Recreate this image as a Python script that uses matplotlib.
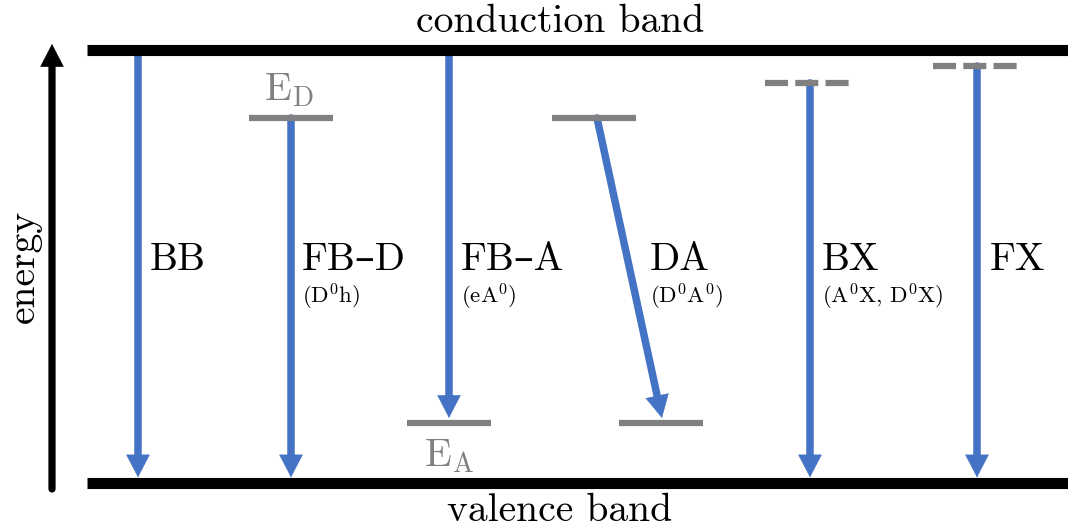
import matplotlib
matplotlib.use("Agg")
import matplotlib.pyplot as plt

plt.rcParams.update(
    {
        "font.family": ["cmr10", "DejaVu Serif"],
        "mathtext.fontset": "cm",
        "axes.unicode_minus": False,
        "lines.scale_dashes": False,
    }
)

# Energies in units of the band gap (valence band = 0, conduction band = 1)
E_CB = 1.0
E_VB = 0.0
E_DONOR = 0.843
E_ACCEPTOR = 0.139
E_BOUND_X = 0.924
E_FREE_X = 0.963

# Horizontal positions of the transitions
x_bb = 138
x_fbd = 291
x_fba = 449
x_da_start, x_da_end = 597, 663
x_bx = 810
x_fx = 977

names = ["BB", "FB–D", "FB–A", "DA", "BX", "FX"]
subnames = ["", r"(D$^0$h)", r"(eA$^0$)", r"(D$^0$A$^0$)", r"(A$^0$X, D$^0$X)", ""]
label_x = [150, 302, 461, 650, 822, 990]

BLUE = "#4472C4"
GRAY = "#808080"
BIG = 28.5
SMALL = 16.5
HEAD = "-|>,head_length=0.79,head_width=0.41"
HEAD_PT = 15.8

fig = plt.figure(figsize=(10.68, 5.29), dpi=100)
ax = fig.add_axes([0, 0, 1, 1])
px = 1 / 433  # one pixel in energy units
ax.set_xlim(0, 1068)
ax.set_ylim(-46 * px, 483 * px)
ax.axis("off")


def arrow(x0, e0, x1, e1, color, shrink, lw=5.4, z=2):
    # thick shaft stopping at the base of the head, then a sharp head
    ax.annotate("", xy=(x1, e1), xytext=(x0, e0), zorder=z,
                arrowprops=dict(arrowstyle="-", lw=lw, color=color,
                                shrinkA=0, shrinkB=shrink + HEAD_PT - 1))
    ax.annotate("", xy=(x1, e1), xytext=(x0, e0), zorder=z,
                arrowprops=dict(arrowstyle=HEAD, mutation_scale=20, lw=0.4,
                                color=color, shrinkA=0, shrinkB=shrink))


# bands
for e in (E_CB, E_VB):
    ax.plot([87, 1068], [e, e], c="k", lw=8, solid_capstyle="butt", zorder=3)
ax.text(560, E_CB + 28 * px, "conduction band", ha="center", va="center", fontsize=BIG)
ax.text(560, E_VB - 28 * px, "valence band", ha="center", va="center", fontsize=BIG)

# energy axis
arrow(52, E_VB - 6 * px, 52, E_CB + 6 * px, "k", 0, lw=5.2, z=3)
ax.text(24, 0.5, "energy", rotation=90, ha="center", va="center", fontsize=BIG)


def level(xc, e, dashed=False):
    ls = (0, (16.6, 5.2)) if dashed else "-"
    ax.plot([xc - 42, xc + 42], [e, e], c=GRAY, lw=4.5, ls=ls,
            solid_capstyle="butt", dash_capstyle="butt", zorder=3)


level(x_fbd, E_DONOR)
level(x_fba, E_ACCEPTOR)
level(x_da_start - 3, E_DONOR)
level(x_da_end - 2, E_ACCEPTOR)
level(x_bx - 3, E_BOUND_X, dashed=True)
level(x_fx - 2, E_FREE_X, dashed=True)
ax.text(x_fbd - 2, E_DONOR + 28 * px, r"E$_\mathrm{D}$", color=GRAY,
        ha="center", va="center", fontsize=BIG)
ax.text(x_fba, E_ACCEPTOR - 33 * px, r"E$_\mathrm{A}$", color=GRAY,
        ha="center", va="center", fontsize=BIG)

# transitions
arrow(x_bb, E_CB, x_bb, E_VB, BLUE, 4)
arrow(x_fbd, E_DONOR, x_fbd, E_VB, BLUE, 4)
arrow(x_fba, E_CB, x_fba, E_ACCEPTOR, BLUE, 3.5)
arrow(x_da_start, E_DONOR, x_da_end, E_ACCEPTOR, BLUE, 3.5)
arrow(x_bx, E_BOUND_X, x_bx, E_VB, BLUE, 4)
arrow(x_fx, E_FREE_X, x_fx, E_VB, BLUE, 4)

for name, sub, lx in zip(names, subnames, label_x):
    ax.text(lx, 0.515, name, ha="left", va="center", fontsize=BIG)
    if sub:
        ax.text(lx, 0.43, sub, ha="left", va="center", fontsize=SMALL)

fig.savefig("out.png", dpi=100)
